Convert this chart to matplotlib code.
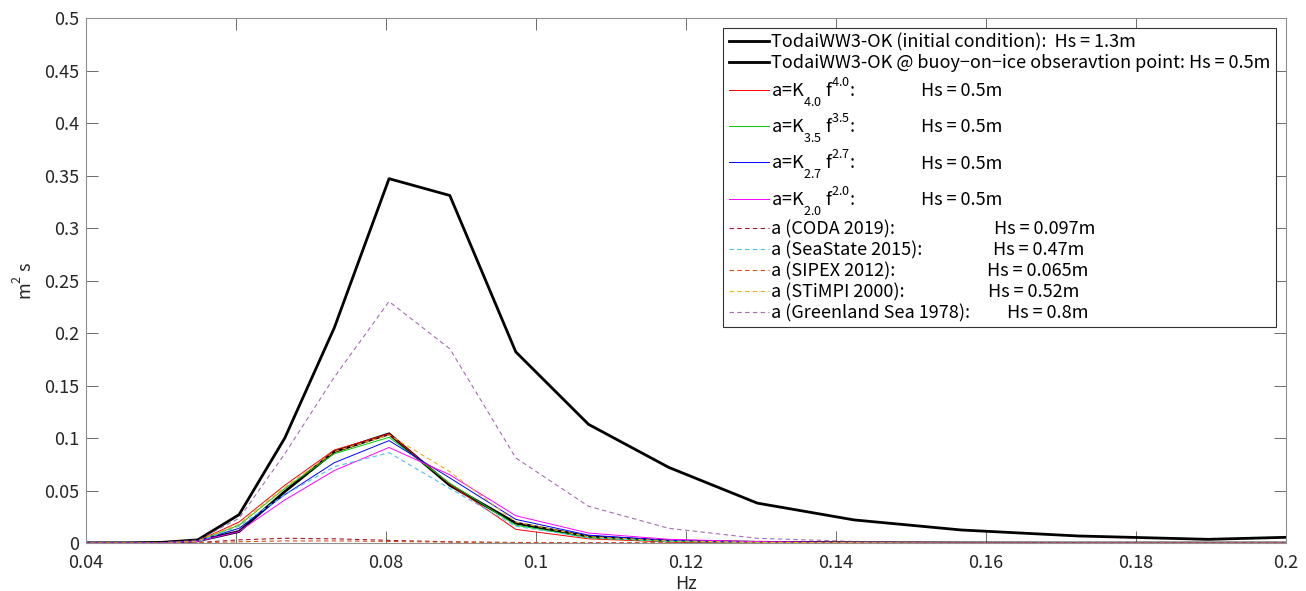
import matplotlib
matplotlib.use("Agg")
import matplotlib.pyplot as plt
import matplotlib._mathtext as mtext

plt.rcParams['font.family'] = ['Noto Sans CJK JP', 'DejaVu Sans']
plt.rcParams['mathtext.fontset'] = 'custom'
plt.rcParams['mathtext.rm'] = 'Noto Sans CJK JP'
plt.rcParams['mathtext.it'] = 'Noto Sans CJK JP'
# MATLAB-style tex: sub/superscripts sit further from the baseline
mtext.FontConstantsBase.sub1 = 1.05
mtext.FontConstantsBase.sub2 = 1.05
mtext.FontConstantsBase.sup1 = 1.0

# frequency bins (Hz)
freq = [0.0375, 0.0413, 0.0454, 0.0499, 0.0549, 0.0604, 0.0665, 0.0731, 0.0804,
        0.0885, 0.0973, 0.1070, 0.1177, 0.1295, 0.1424, 0.1567, 0.1723, 0.1896, 0.2085]

# spectra (m^2 s)
ww3_init = [0, 0, 0, 0.0005, 0.003, 0.027, 0.100, 0.205, 0.347,
            0.331, 0.182, 0.113, 0.072, 0.038, 0.022, 0.0124, 0.0067, 0.0035, 0.007]
ww3_buoy = [0, 0, 0, 0.0002, 0.002, 0.011, 0.049, 0.087, 0.104,
            0.055, 0.019, 0.006, 0.002, 0.0007, 0.0003, 0.0001, 0, 0, 0]
k40 = [0, 0, 0, 0.0002, 0.002, 0.020, 0.055, 0.0886, 0.104,
       0.056, 0.013, 0.004, 0.001, 0.0003, 0.0001, 0, 0, 0, 0]
k35 = [0, 0, 0, 0.0002, 0.002, 0.017, 0.052, 0.085, 0.1007,
       0.057, 0.017, 0.005, 0.0015, 0.0005, 0.0002, 0, 0, 0, 0]
k27 = [0, 0, 0, 0.0002, 0.002, 0.014, 0.046, 0.0765, 0.0975,
       0.062, 0.0225, 0.0075, 0.0025, 0.001, 0.0004, 0.0001, 0, 0, 0]
k20 = [0, 0, 0, 0.0002, 0.0015, 0.011, 0.041, 0.069, 0.091,
       0.065, 0.026, 0.0095, 0.0035, 0.0013, 0.0005, 0.0002, 0.0001, 0, 0]
coda = [0, 0, 0, 0.0001, 0.0005, 0.003, 0.0045, 0.004, 0.0025,
        0.0012, 0.0005, 0.0002, 0.0001, 0, 0, 0, 0, 0, 0]
seastate = [0, 0, 0, 0.0002, 0.001, 0.016, 0.046, 0.0727, 0.086,
            0.052, 0.016, 0.005, 0.0015, 0.0005, 0.0002, 0, 0, 0, 0]
sipex = [0, 0, 0, 0, 0.0002, 0.0012, 0.002, 0.002, 0.0015,
         0.0008, 0.0003, 0.0001, 0, 0, 0, 0, 0, 0, 0]
stimpi = [0, 0, 0, 0.0002, 0.002, 0.018, 0.053, 0.087, 0.103,
          0.068, 0.020, 0.006, 0.002, 0.0007, 0.0002, 0.0001, 0, 0, 0]
greenland = [0, 0, 0, 0.0003, 0.003, 0.0235, 0.085, 0.158, 0.230,
             0.185, 0.081, 0.035, 0.014, 0.0045, 0.0015, 0.0005, 0.0002, 0.0001, 0]

# legend: left part and the "Hs = ..." column (None -> all in one string)
names = [
    "TodaiWW3-OK (initial condition):  Hs = 1.3m",
    "TodaiWW3-OK @ buoy\u2212on\u2212ice obseravtion point: Hs = 0.5m",
    r"a=K$_{4.0}$ f$^{4.0}$:",
    r"a=K$_{3.5}$ f$^{3.5}$:",
    r"a=K$_{2.7}$ f$^{2.7}$:",
    r"a=K$_{2.0}$ f$^{2.0}$:",
    "a (CODA 2019):",
    "a (SeaState 2015):",
    "a (SIPEX 2012):",
    "a (STiMPI 2000):",
    "a (Greenland Sea 1978):",
]
hs_labels = [None, None, "Hs = 0.5m", "Hs = 0.5m", "Hs = 0.5m", "Hs = 0.5m",
             "Hs = 0.097m", "Hs = 0.47m", "Hs = 0.065m", "Hs = 0.52m", "Hs = 0.8m"]
hs_xpix = [None, None, 921, 921, 921, 921, 994, 993, 987, 988, 1007]

W, H = 13.06, 5.91
fig = plt.figure(figsize=(W, H), dpi=100)
ax = fig.add_axes([0.0659, 0.0812, 0.9188, 0.8883])

ax.plot(freq, ww3_init, color='black', lw=2.0, label=names[0])
ax.plot(freq, ww3_buoy, color='black', lw=2.0, label=names[1])
ax.plot(freq, k40, color='red', lw=0.7, label=names[2])
ax.plot(freq, k35, color='#00cc00', lw=0.7, label=names[3])
ax.plot(freq, k27, color='blue', lw=0.7, label=names[4])
ax.plot(freq, k20, color='magenta', lw=0.7, label=names[5])
ax.plot(freq, coda, color='#a2142f', lw=0.8, ls=(0, (4, 3)), label=names[6])
ax.plot(freq, seastate, color='#4dbeee', lw=0.8, ls=(0, (4, 3)), label=names[7])
ax.plot(freq, sipex, color='#d95319', lw=0.8, ls=(0, (4, 3)), label=names[8])
ax.plot(freq, stimpi, color='#edb120', lw=0.8, ls=(0, (4, 3)), label=names[9])
ax.plot(freq, greenland, color='#7e2f8e', lw=0.8, ls=(0, (4, 3)), alpha=0.7, label=names[10])

ax.set_xlim(0.04, 0.2)
ax.set_ylim(0, 0.5)
ax.set_xticks([0.04, 0.06, 0.08, 0.1, 0.12, 0.14, 0.16, 0.18, 0.2])
ax.set_xticklabels(["0.04", "0.06", "0.08", "0.1", "0.12", "0.14", "0.16", "0.18", "0.2"])
ax.set_yticks([0, 0.05, 0.1, 0.15, 0.2, 0.25, 0.3, 0.35, 0.4, 0.45, 0.5])
ax.set_yticklabels(["0", "0.05", "0.1", "0.15", "0.2", "0.25", "0.3", "0.35", "0.4", "0.45", "0.5"])
ax.tick_params(direction='in', length=8.5, width=0.6, color='#555555',
               labelsize=13, labelcolor='#262626', top=True, right=True)
ax.tick_params(axis='x', pad=8)
ax.tick_params(axis='y', pad=5)
for s in ax.spines.values():
    s.set_color('#909090')
    s.set_linewidth(0.8)

ax.set_xlabel("Hz", fontsize=13, color='#262626', labelpad=2)
ax.set_ylabel(r"m$^2$ s", fontsize=13, color='#262626', labelpad=6)

leg = ax.legend(loc='upper right', fontsize=13, handlelength=2.2, handletextpad=0.15,
                borderaxespad=0.55, borderpad=0.3, labelspacing=0.15,
                fancybox=False, framealpha=1, edgecolor='#333333')
leg.get_frame().set_linewidth(0.8)

# put the Hs column on the same baseline as each legend label
fig.canvas.draw()
for t, hs, xp in zip(leg.get_texts(), hs_labels, hs_xpix):
    if hs is None:
        continue
    x0, y0 = t.get_transform().transform(t.get_position())
    fig.text(xp / (W * 100), y0 / (H * 100), hs, fontsize=13, va='baseline',
             ha='left', zorder=10)

fig.savefig("out.png", dpi=100)
